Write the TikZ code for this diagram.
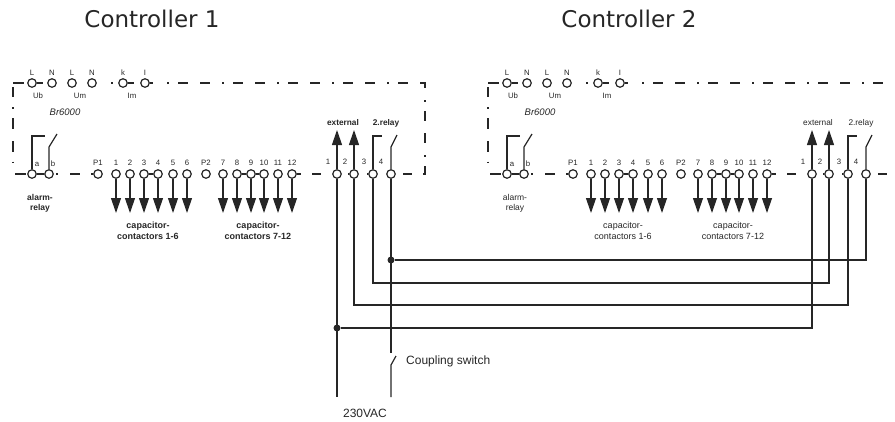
\documentclass[tikz,border=0pt]{standalone}
\usepackage{fontspec}
\setmainfont{Liberation Sans}
\newfontfamily\titlefont{DejaVu Sans}
\usetikzlibrary{arrows.meta}

\definecolor{ink}{HTML}{262626}

\tikzset{
	wire/.style={ink,line width=1.2pt},
	frame/.style={ink,line width=1.9pt},
	pfeil/.style={wire,-{Triangle[length=15pt,width=10pt]}},
	term/.style={circle,draw=ink,fill=white,line width=1.2pt,inner sep=0pt,minimum size=8.5pt},
	lbl/.style={inner sep=0pt,text=ink,font=\fontsize{7.8}{9}\selectfont},
	dot/.style={circle,fill=ink,inner sep=0pt,minimum size=7pt},
	titlef/.style={inner sep=0pt,text=ink,font=\titlefont\fontsize{23}{28}\selectfont},
}
\tikzset{
	ctrl/.pic={
        code={
%Klemmen oben
\foreach \n/\x in {L1/32,N1/52,L2/72,N2/92,k/123,I/145}
  \node[term] (-\n) at (\x,83) {};
\foreach \n/\x/\txt in {L1/32/L,N1/52/N,L2/72/L,N2/92/N,k/123/k,I/145/I}
  \node[lbl] (-\n-t) at (\x,73) {\txt};
\node[lbl] (-ub) at (38,96) {Ub};
\node[lbl] (-um) at (80,96) {Um};
\node[lbl] (-im) at (132,96) {Im};
\node[lbl,font=\fontsize{9.5}{11}\selectfont\itshape] (-typ) at (65,112) {Br6000};
%Klemmen unten
\foreach \n/\x in {a/32,b/49,P1/98,o1/116,o2/130,o3/144,o4/158,o5/173,o6/187,P2/206,o7/223,o8/237,o9/251,o10/264,o11/278,o12/292,t1/337,t2/354,t3/373,t4/391}
  \node[term] (-\n) at (\x,174) {};
\foreach \n/\x/\txt in {P1/98/P1,o1/116/1,o2/130/2,o3/144/3,o4/158/4,o5/173/5,o6/187/6,P2/206/P2,o7/223/7,o8/237/8,o9/251/9,o10/264/10,o11/278/11,o12/292/12}
  \node[lbl] (-\n-t) at (\x,163) {\txt};
\node[lbl] (-a-t) at (37,164) {a};
\node[lbl] (-b-t) at (53,164) {b};
\foreach \n/\x/\txt in {t1/328/1,t2/345/2,t3/364/3,t4/381/4}
  \node[lbl] (-\n-t) at (\x,162) {\txt};
\node[lbl,font=\fontsize{8.3}{10}\selectfont#1] (-ext) at (343,123) {external};
\node[lbl,font=\fontsize{8.3}{10}\selectfont#1] (-rel) at (386,123) {2.relay};
\node[lbl,font=\fontsize{8.5}{10}\selectfont#1,align=center] (-alarm) at (40,203) {alarm-\\relay};
\node[lbl,font=\fontsize{9}{10.5}\selectfont#1,align=center] (-cap1) at (148,231) {capacitor-\\contactors 1-6};
\node[lbl,font=\fontsize{9}{10.5}\selectfont#1,align=center] (-cap2) at (258,231) {capacitor-\\contactors 7-12};
%Rahmen
\draw[frame] (13,83)--(24,83);
\draw[frame,dash pattern=on 10pt off 10.25pt on 1.5pt off 9.5pt on 11pt off 12pt on 11pt off 9.25pt on 1.5pt off 20pt] (13,87)--(13,165);
\draw[frame,dash pattern=on 1.5pt off 9.5pt on 10pt off 12pt on 10pt off 12pt] (167,83)--(425,83)--(425,174)--(421,174);
\draw[frame] (-L1)--(43,83);
\draw[frame] (111,83)--(112.5,83);
\draw[frame] (-k)--(134,83);
\draw[frame] (-I)--(153,83);
\draw[frame] (15,174)--(26,174);
\draw[frame] (-a)--(-b);
\draw[frame] (56,174)--(57.5,174);
\draw[frame] (70,174)--(80,174);
\draw[frame] (91,174)--(-P1);
\draw[frame] (-o3)--(-o4);
\draw[frame] (-o8)--(-o9);
\draw[frame] (-o9)--(-o10);
\draw[frame] (-o12)--(301,174);
\draw[frame] (312,174)--(321,174);
\draw[frame] (348,174)--(-t2);
\draw[frame] (367,174)--(-t3);
\draw[frame] (403,174)--(412,174);
%Relais
\draw[wire] (-a) |- (45,136);
\draw[wire] (-b)--(49,147)--(57,134);
\draw[wire] (-t3) |- (382,136);
\draw[wire] (-t4)--(391,147)--(397,135);
%Pfeile
\foreach \n in {1,...,12}
  \draw[pfeil] (-o\n)--++(0,39);
\foreach \n in {1,2}
  \draw[pfeil] (-t\n)--++(0,-44);
							}
	}
}

\begin{document}
\begin{tikzpicture}[x=1pt,y=-1pt]
\useasboundingbox (0,0) rectangle (895,421);
\clip (0,0) rectangle (895,421);

\node[titlef] (h1) at (152,19) {Controller 1};
\node[titlef] (h2) at (629,19) {Controller 2};

\pic (c1) at (0,0) {ctrl=\bfseries};
\pic (c2) at (475,0) {ctrl=\mdseries};

%Verdrahtung
\coordinate (lv1) at (0,260);
\coordinate (lv2) at (0,283);
\coordinate (lv3) at (0,305);
\coordinate (lv4) at (0,328);
\coordinate (ac) at (c1-t1 |- 0,397);
\coordinate (sw1) at (c1-t4 |- 0,353);
\coordinate (sw2) at (c1-t4 |- 0,365);
\coordinate (sw3) at (396,356);
\coordinate (sw4) at (c1-t4 |- 0,397);

\node[dot] (j1) at (c1-t4 |- lv1) {};
\node[dot] (j2) at (c1-t1 |- lv4) {};

\draw[wire] (c1-t1)--(ac);
\draw[wire] (j2) -| (c2-t1);
\draw[wire] (c1-t2)--(c1-t2 |- lv3) -| (c2-t3);
\draw[wire] (c1-t3)--(c1-t3 |- lv2) -| (c2-t2);
\draw[wire] (j1) -| (c2-t4);
\draw[wire] (c1-t4)--(sw1);
\draw[wire] (sw4)--(sw2)--(sw3);

\node[lbl,font=\fontsize{12}{14}\selectfont,anchor=west] (kopp) at (406,361) {Coupling switch};
\node[lbl,font=\fontsize{12}{14}\selectfont] (netz) at (365,413) {230VAC};
\end{tikzpicture}
\end{document}
